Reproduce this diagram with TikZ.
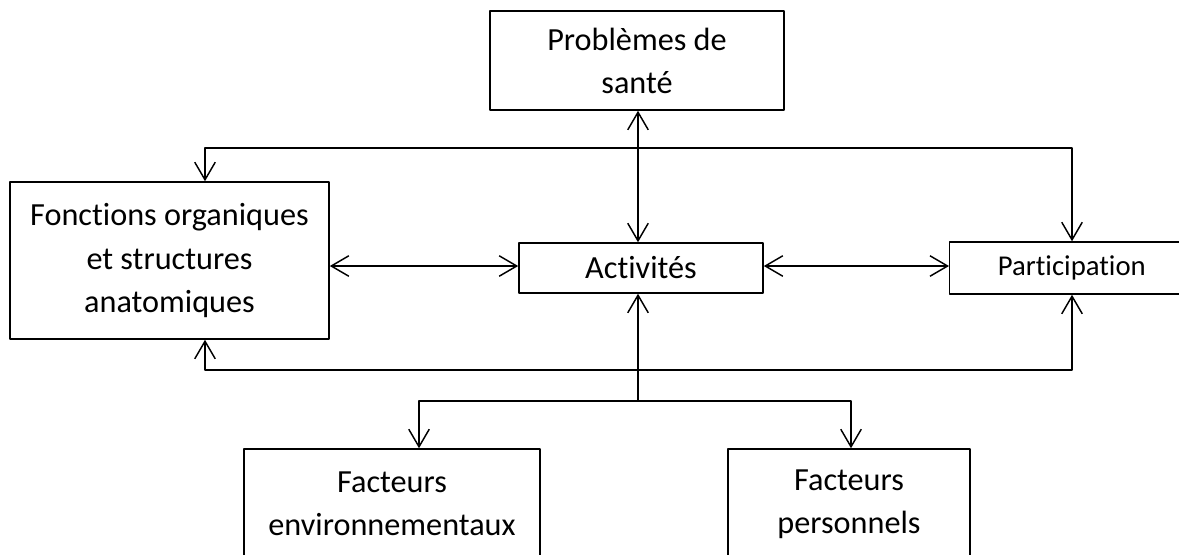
\documentclass[tikz,border=0pt]{standalone}
\usepackage{fontspec}
\setmainfont{Carlito}[Ligatures=CommonOff]
\usetikzlibrary{arrows.meta, calc, positioning}

\begin{document}
\begin{tikzpicture}[x=0.012cm, y=-0.012cm, line cap=round, line join=round,
	>={Straight Barb[length=6pt,width=7pt]},
	box/.style={draw, line width=0.5pt, align=center, inner sep=0pt,
		font=\fontsize{11}{14.7}\selectfont},
	link/.style={line width=0.5pt}]
	% frame of the picture
	\useasboundingbox (0,0) rectangle (1179,554);

	% boxes
	\node[box, minimum width=3.528cm, minimum height=1.188cm] (sante) at (637,60.5) {Problèmes de\\santé};
	\node[box, minimum width=3.828cm, minimum height=1.884cm] (fonctions) at (169.5,260.5) {Fonctions organiques\\et structures\\anatomiques};
	\node[box, minimum width=2.928cm, minimum height=0.6cm] (activites) at (641,268) {Activités};
	% runs off the right edge
	\node[box, anchor=west, align=left, text width=80pt, inner xsep=16.4pt, minimum height=0.624cm,
		font=\fontsize{9.8}{12}\selectfont] (participation) at (949,268) {Participation};
	\node[box, minimum width=3.552cm, minimum height=1.32cm] (env) at (392,504) {Facteurs\\environnementaux};
	\node[box, minimum width=2.904cm, minimum height=1.32cm] (pers) at (849,504) {Facteurs\\personnels};

	% corners of the connectors
	\coordinate (tl) at (205,148);
	\coordinate (tr) at (1072,148);
	\coordinate (bl) at (205,370);
	\coordinate (br) at (1072,370);
	\coordinate (mid) at (638,266);
	\coordinate (jn) at (638,401);
	\coordinate (jl) at (419,401);
	\coordinate (jr) at (851,401);

	% connectors
	\draw[link,<->] (sante.south -| mid) -- (activites.north -| mid);
	\draw[link,<->] (tl |- fonctions.north) -- (tl) -- (tr) -- (tr |- participation.north);
	\draw[link,<->] (fonctions.east |- mid) -- (activites.west |- mid);
	\draw[link,<->] (activites.east |- mid) -- (participation.west |- mid);
	\draw[link,<->] (bl |- fonctions.south) -- (bl) -- (br) -- (br |- participation.south);
	\draw[link,->] (jn) -- (activites.south -| jn);
	\draw[link,<->] (jl |- env.north) -- (jl) -- (jr) -- (jr |- pers.north);

\end{tikzpicture}
\end{document}
